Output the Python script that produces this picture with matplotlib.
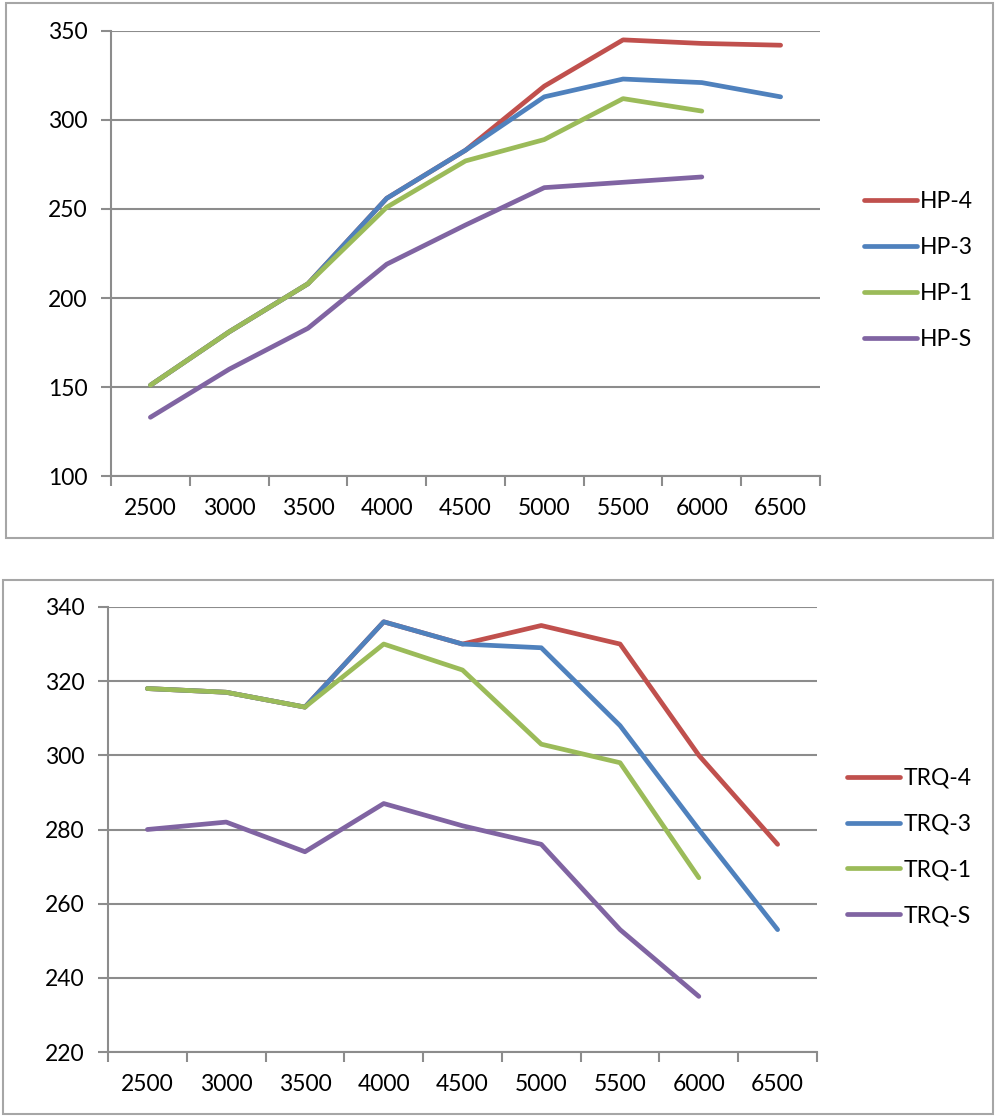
import numpy as np
import matplotlib.pyplot as plt
from matplotlib.patches import Rectangle
from matplotlib.ticker import FixedLocator

# Datos
rpm = ["2500", "3000", "3500", "4000", "4500", "5000", "5500", "6000", "6500"]

hp_4 = [151, 181, 208, 256, 283, 319, 345, 343, 342]
hp_3 = [151, 181, 208, 256, 283, 313, 323, 321, 313]
hp_1 = [151, 181, 208, 251, 277, 289, 312, 305]
hp_s = [133, 160, 183, 219, 241, 262, 265, 268]

trq_4 = [318, 317, 313, 336, 330, 335, 330, 300, 276]
trq_3 = [318, 317, 313, 336, 330, 329, 308, 280, 253]
trq_1 = [318, 317, 313, 330, 323, 303, 298, 267]
trq_s = [280, 282, 274, 287, 281, 276, 253, 235]

colores = ["#C0504D", "#4F81BD", "#9BBB59", "#8064A2"]
gris = "#8c8c8c"

plt.rcParams['font.family'] = ['Lato', 'DejaVu Sans']

fig = plt.figure(figsize=(10, 11.18), dpi=100)

# marcos de cada grafico
fig.patches.append(Rectangle((6 / 1000, 1 - 538 / 1118), 987 / 1000, 535 / 1118,
                             transform=fig.transFigure, fill=False, edgecolor="#a6a6a6", lw=1.5))
fig.patches.append(Rectangle((3 / 1000, 1 - 1114 / 1118), 990 / 1000, 534 / 1118,
                             transform=fig.transFigure, fill=False, edgecolor="#a6a6a6", lw=1.5))


def dibujar(ax, series, nombres, ylim, paso, leg_x, leg_y):
    for valores, nombre, c in zip(series, nombres, colores):
        ax.plot(range(len(valores)), valores, color=c, lw=3.4, label=nombre,
                solid_capstyle='round', solid_joinstyle='round')
    ax.set_xlim(-0.5, len(rpm) - 0.5)
    ax.set_ylim(*ylim)
    ax.set_yticks(np.arange(ylim[0], ylim[1] + 1, paso))
    ax.set_xticks(range(len(rpm)))
    ax.set_xticklabels(rpm)
    ax.xaxis.set_minor_locator(FixedLocator(np.arange(-0.5, len(rpm), 1)))
    ax.tick_params(axis='x', which='major', length=0, pad=16, labelsize=16.5)
    ax.tick_params(axis='x', which='minor', length=7, width=1.5, color=gris)
    ax.tick_params(axis='y', length=7, width=1.5, color=gris, pad=10, labelsize=16.5)
    ax.grid(axis='y', color=gris, lw=1.5)
    ax.set_axisbelow(True)
    for s in ['top', 'right']:
        ax.spines[s].set_visible(False)
    for s in ['left', 'bottom']:
        ax.spines[s].set_color(gris)
        ax.spines[s].set_linewidth(1.5)
    ax.legend(loc='center left', bbox_to_anchor=(leg_x, leg_y), bbox_transform=fig.transFigure,
              frameon=False, fontsize=16.5, handlelength=2.3, handletextpad=0.15,
              labelspacing=1.08, borderpad=0, borderaxespad=0)


ax1 = fig.add_axes([0.111, 0.5742, 0.709, 0.3981])
dibujar(ax1, [hp_4, hp_3, hp_1, hp_s], ["HP-4", "HP-3", "HP-1", "HP-S"], (100, 350), 50,
        0.864, 1 - 270.5 / 1118)

ax2 = fig.add_axes([0.108, 0.0590, 0.709, 0.3981])
dibujar(ax2, [trq_4, trq_3, trq_1, trq_s], ["TRQ-4", "TRQ-3", "TRQ-1", "TRQ-S"], (220, 340), 20,
        0.847, 1 - 847 / 1118)

fig.savefig("out.png", dpi=100)
